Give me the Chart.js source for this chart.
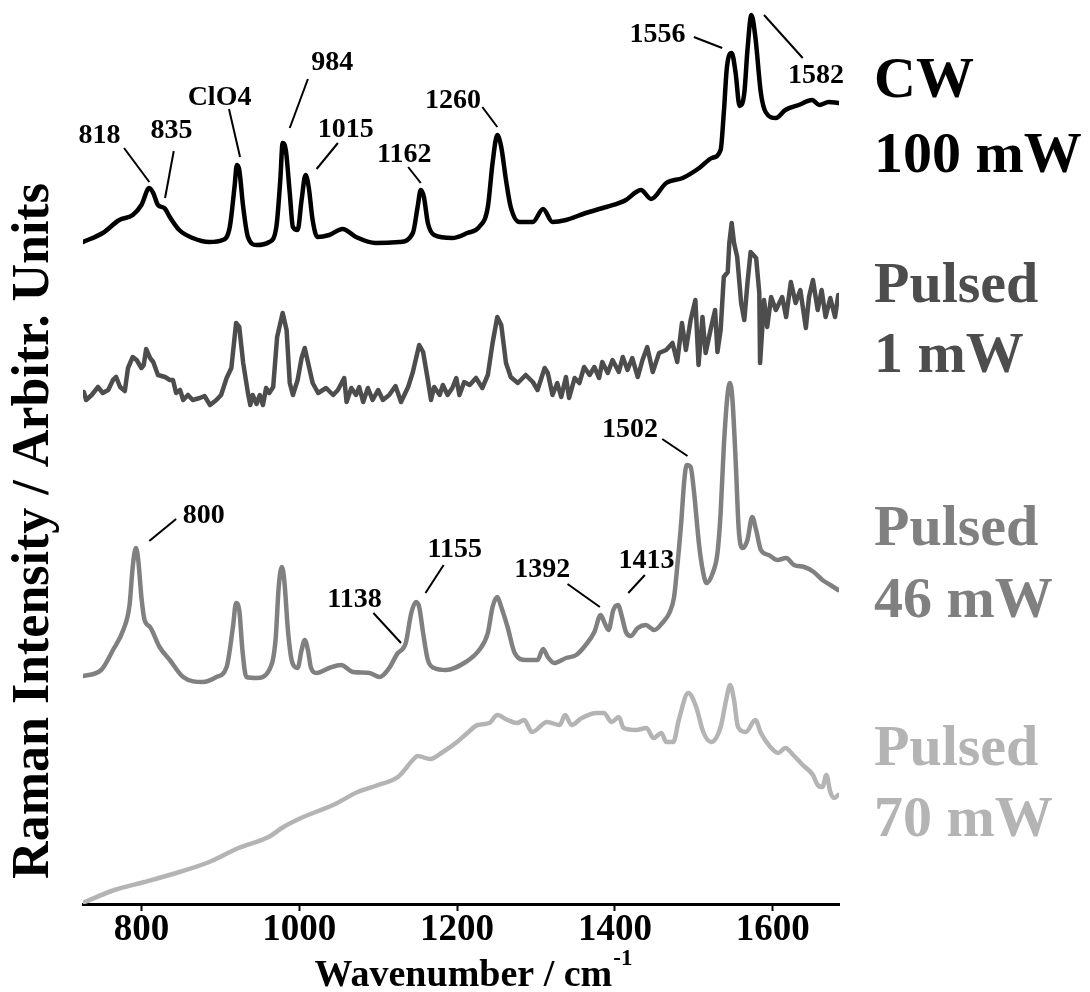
<!DOCTYPE html>
<html>
<head>
<meta charset="utf-8">
<script src="https://cdn.jsdelivr.net/npm/chart.js@4.4.1/dist/chart.umd.min.js"></script>
<style>
  body { margin: 0; background: #fff; }
  canvas { display: block; }
</style>
</head>
<body>
<canvas id="raman" width="1090" height="992"></canvas>
<script>
// spectra, stacked with offsets (arbitrary units)
const cwWavenumber = [726, 751, 772, 789, 800, 810, 815, 821, 829, 836, 848, 865, 886, 903, 912, 918, 921, 924, 929, 935,
  946, 962, 971, 976, 979, 983, 988, 992, 998, 1003, 1008, 1012, 1017, 1023, 1038, 1055, 1072, 1097, 1127, 1144,
  1150, 1154, 1158, 1163, 1171, 1194, 1213, 1228, 1239, 1245, 1251, 1256, 1262, 1268, 1279, 1296, 1309, 1321, 1338, 1363,
  1389, 1414, 1427, 1433, 1446, 1465, 1486, 1507, 1523, 1534, 1538, 1542, 1548, 1553, 1558, 1564, 1568, 1573, 1578, 1585,
  1591, 1604, 1616, 1633, 1650, 1659, 1671, 1683];
const cwIntensity = [662, 671, 684, 689, 699, 716, 711, 699, 696, 687, 674, 666, 662, 664, 677, 717, 739, 734, 697, 667,
  659, 662, 677, 724, 761, 754, 711, 677, 674, 704, 729, 717, 684, 667, 669, 675, 667, 661, 662, 671,
  697, 714, 707, 681, 669, 666, 671, 677, 697, 741, 769, 757, 724, 697, 682, 682, 695, 682, 684, 691,
  697, 704, 712, 714, 705, 721, 726, 736, 746, 754, 791, 837, 851, 831, 798, 811, 854, 889, 867, 811,
  792, 786, 794, 799, 804, 799, 802, 801];

const p1Wavenumber = [727, 730, 737, 745, 751, 758, 764, 768, 773, 779, 783, 789, 794, 800, 803, 806, 811, 815, 821, 830,
  836, 840, 844, 849, 853, 859, 865, 874, 880, 887, 895, 901, 908, 914, 920, 924, 929, 935, 938, 941,
  946, 950, 954, 958, 962, 967, 972, 979, 984, 988, 992, 998, 1003, 1007, 1011, 1017, 1024, 1034, 1043, 1049,
  1057, 1060, 1066, 1072, 1076, 1081, 1087, 1093, 1100, 1106, 1114, 1122, 1129, 1138, 1144, 1152, 1157, 1163, 1167, 1171,
  1178, 1182, 1188, 1194, 1199, 1203, 1209, 1216, 1224, 1232, 1239, 1245, 1251, 1256, 1262, 1268, 1277, 1287, 1296, 1302,
  1311, 1315, 1321, 1327, 1332, 1338, 1342, 1349, 1355, 1361, 1368, 1374, 1380, 1384, 1391, 1397, 1405, 1410, 1416, 1422,
  1429, 1435, 1441, 1448, 1456, 1465, 1473, 1479, 1485, 1490, 1496, 1502, 1506, 1511, 1515, 1522, 1527, 1530, 1534, 1538,
  1543, 1545, 1548, 1551, 1555, 1560, 1564, 1568, 1572, 1579, 1583, 1584, 1589, 1593, 1598, 1604, 1612, 1617, 1623, 1629,
  1635, 1642, 1646, 1651, 1657, 1662, 1667, 1673, 1679, 1683];
const p1Intensity = [512, 504, 509, 517, 511, 514, 524, 527, 517, 513, 536, 547, 544, 536, 539, 555, 546, 542, 529, 527,
  524, 524, 511, 514, 504, 509, 504, 506, 508, 499, 504, 509, 526, 536, 581, 577, 541, 511, 499, 509,
  500, 509, 499, 516, 511, 517, 567, 591, 574, 521, 509, 524, 546, 556, 542, 521, 511, 516, 509, 514,
  526, 502, 516, 509, 517, 502, 516, 504, 514, 504, 509, 518, 502, 517, 532, 559, 552, 524, 504, 517,
  509, 519, 509, 516, 526, 509, 522, 519, 526, 516, 529, 561, 587, 579, 541, 527, 521, 529, 522, 514,
  536, 531, 509, 521, 507, 527, 506, 526, 521, 537, 529, 537, 526, 542, 531, 544, 532, 547, 534, 546,
  527, 544, 557, 532, 551, 554, 561, 542, 581, 554, 584, 604, 539, 587, 551, 577, 594, 552, 574, 627,
  632, 661, 681, 661, 647, 601, 584, 621, 652, 646, 611, 541, 604, 577, 607, 594, 607, 587, 622, 601,
  614, 576, 607, 624, 594, 614, 587, 606, 587, 609];

const p46Wavenumber = [726, 749, 764, 777, 785, 789, 793, 796, 800, 804, 811, 823, 836, 853, 878, 895, 908, 916, 920, 924,
  928, 933, 946, 962, 970, 974, 978, 981, 986, 991, 998, 1003, 1007, 1011, 1015, 1022, 1038, 1053, 1068, 1089,
  1102, 1114, 1125, 1131, 1135, 1142, 1148, 1152, 1157, 1163, 1171, 1186, 1211, 1228, 1239, 1245, 1251, 1256, 1264, 1273,
  1287, 1302, 1309, 1315, 1323, 1338, 1351, 1363, 1374, 1382, 1387, 1392, 1398, 1404, 1409, 1414, 1420, 1429, 1439, 1450,
  1460, 1469, 1475, 1479, 1484, 1488, 1491, 1496, 1500, 1507, 1512, 1516, 1524, 1530, 1534, 1538, 1543, 1546, 1549, 1553,
  1557, 1562, 1568, 1574, 1579, 1585, 1595, 1606, 1617, 1627, 1640, 1652, 1663, 1673, 1683];
const p46Intensity = [228, 234, 254, 274, 299, 337, 356, 344, 307, 284, 277, 257, 244, 227, 222, 227, 237, 277, 301, 294,
  254, 227, 226, 234, 264, 317, 337, 324, 271, 242, 236, 254, 264, 254, 236, 231, 236, 239, 232, 231,
  227, 236, 251, 255, 261, 291, 302, 297, 271, 244, 236, 234, 242, 254, 271, 297, 307, 297, 277, 251,
  244, 244, 255, 247, 241, 246, 249, 259, 272, 289, 281, 274, 294, 299, 287, 272, 268, 276, 279, 274,
  281, 291, 307, 337, 381, 424, 439, 437, 414, 357, 331, 321, 331, 351, 391, 457, 511, 521, 504, 444,
  374, 356, 364, 387, 374, 354, 349, 344, 346, 339, 337, 332, 324, 319, 314];

const p70Wavenumber = [728, 766, 804, 848, 886, 923, 961, 980, 1005, 1043, 1074, 1100, 1125, 1144, 1150, 1166, 1182, 1200, 1213, 1226,
  1241, 1251, 1264, 1276, 1285, 1295, 1314, 1330, 1337, 1345, 1358, 1377, 1386, 1396, 1405, 1411, 1427, 1440, 1449, 1459,
  1465, 1474, 1481, 1493, 1503, 1512, 1522, 1534, 1541, 1546, 1551, 1556, 1566, 1578, 1585, 1597, 1607, 1616, 1626, 1638,
  1651, 1657, 1663, 1668, 1673, 1678, 1683];
const p70Intensity = [2, 14, 22, 32, 42, 56, 67, 77, 87, 99, 112, 119, 127, 144, 148, 145, 152, 162, 171, 179,
  181, 189, 184, 181, 184, 172, 182, 179, 189, 179, 186, 191, 191, 182, 187, 176, 174, 176, 166, 171,
  162, 162, 184, 211, 197, 172, 162, 177, 204, 219, 204, 177, 172, 184, 171, 157, 151, 156, 149, 139,
  129, 119, 117, 129, 112, 106, 109];

const xTicks = [800, 1000, 1200, 1400, 1600];

const seriesNames = [['CW', '100 mW'], ['Pulsed', '1 mW'], ['Pulsed', '46 mW'], ['Pulsed', '70 mW']];
const seriesColors = ['#000000', '#4d4d4d', '#808080', '#b4b4b4'];
const nameLevels = [[807, 732], [602, 532], [359, 287], [139, 68]];

// peak labels: text, label anchor (wavenumber, level), leader line [x1, y1, x2, y2]
const peakText = ['818', '835', 'ClO4', '984', '1015', '1162', '1260', '1556', '1582',
  '800', '1138', '1155', '1392', '1413', '1502'];
const peakTextX = [747, 838, 899, 1042, 1059, 1133, 1195, 1454, 1655, 879, 1070, 1197, 1308, 1440, 1419];
const peakTextY = [761, 766, 799, 834, 767, 742, 796, 862, 821, 381, 297, 347, 327, 336, 467];
const peakLines = [
  [778, 756, 810, 722], [841, 753, 830, 706], [911, 795, 925, 747], [1011, 825, 988, 776],
  [1049, 761, 1022, 735], [1138, 737, 1154, 721], [1232, 797, 1251, 777], [1500, 867, 1536, 856],
  [1589, 889, 1638, 846], [844, 385, 810, 363], [1094, 291, 1129, 261], [1183, 339, 1160, 311],
  [1340, 320, 1381, 297], [1438, 329, 1417, 311], [1460, 465, 1492, 448]
];

const serif = '"Liberation Serif", "Times New Roman", serif';

function toPoints(xs, ys) {
  return xs.map((v, i) => ({x: v, y: ys[i]}));
}

const decorations = {
  id: 'decorations',
  afterDatasetsDraw(chart) {
    const {ctx, chartArea} = chart;
    const sx = chart.scales.x, sy = chart.scales.y;
    ctx.save();

    ctx.strokeStyle = '#000';
    ctx.lineWidth = 2;
    peakLines.forEach(([x1, y1, x2, y2]) => {
      ctx.beginPath();
      ctx.moveTo(sx.getPixelForValue(x1), sy.getPixelForValue(y1));
      ctx.lineTo(sx.getPixelForValue(x2), sy.getPixelForValue(y2));
      ctx.stroke();
    });

    ctx.fillStyle = '#000';
    ctx.font = 'bold 28px ' + serif;
    ctx.textAlign = 'center';
    ctx.textBaseline = 'alphabetic';
    peakText.forEach((t, i) => {
      ctx.fillText(t, sx.getPixelForValue(peakTextX[i]), sy.getPixelForValue(peakTextY[i]));
    });

    ctx.font = 'bold 58px ' + serif;
    ctx.textAlign = 'left';
    seriesNames.forEach((lines, i) => {
      ctx.fillStyle = seriesColors[i];
      lines.forEach((line, j) => {
        ctx.fillText(line, chartArea.right + 35, sy.getPixelForValue(nameLevels[i][j]));
      });
    });

    // x title with superscript
    ctx.fillStyle = '#000';
    const main = 'Wavenumber / cm', sup = '-1';
    ctx.font = 'bold 38px ' + serif;
    const w1 = ctx.measureText(main).width;
    ctx.font = 'bold 23px ' + serif;
    const w2 = ctx.measureText(sup).width;
    const startX = (chartArea.left + chartArea.right) / 2 + 12 - (w1 + w2) / 2;
    ctx.font = 'bold 38px ' + serif;
    ctx.fillText(main, startX, 986);
    ctx.font = 'bold 23px ' + serif;
    ctx.fillText(sup, startX + w1 + 1, 965);

    // y title
    ctx.translate(48, 531);
    ctx.rotate(-Math.PI / 2);
    ctx.font = 'bold 52px ' + serif;
    ctx.textAlign = 'center';
    ctx.fillText('Raman Intensity / Arbitr. Units', 0, 0);

    ctx.restore();
  }
};

new Chart(document.getElementById('raman'), {
  type: 'line',
  data: {
    datasets: [
      {data: toPoints(p70Wavenumber, p70Intensity), borderColor: seriesColors[3], cubicInterpolationMode: 'monotone'},
      {data: toPoints(p46Wavenumber, p46Intensity), borderColor: seriesColors[2], cubicInterpolationMode: 'monotone'},
      {data: toPoints(p1Wavenumber, p1Intensity), borderColor: seriesColors[1], tension: 0},
      {data: toPoints(cwWavenumber, cwIntensity), borderColor: seriesColors[0], cubicInterpolationMode: 'monotone'}
    ]
  },
  options: {
    responsive: false,
    animation: false,
    devicePixelRatio: 1,
    layout: {padding: {left: 83, right: 251, top: 0, bottom: 0}},
    elements: {
      point: {radius: 0},
      line: {borderWidth: 4.5, borderJoinStyle: 'round', borderCapStyle: 'round', fill: false}
    },
    plugins: {legend: {display: false}, tooltip: {enabled: false}},
    scales: {
      x: {
        type: 'linear',
        min: 726,
        max: 1684,
        afterBuildTicks: s => { s.ticks = xTicks.map(v => ({value: v})); },
        afterFit: s => { s.height = 88; },
        border: {display: true, color: '#000', width: 3},
        grid: {display: true, drawOnChartArea: false, drawTicks: true, tickLength: 7, tickWidth: 2, tickColor: '#000'},
        ticks: {
          color: '#000',
          padding: 1,
          maxRotation: 0,
          autoSkip: false,
          callback: v => String(v),
          font: {family: serif, size: 37, weight: 'bold', lineHeight: 1}
        }
      },
      y: {display: false, min: 0, max: 904}
    }
  },
  plugins: [decorations]
});
</script>
</body>
</html>
